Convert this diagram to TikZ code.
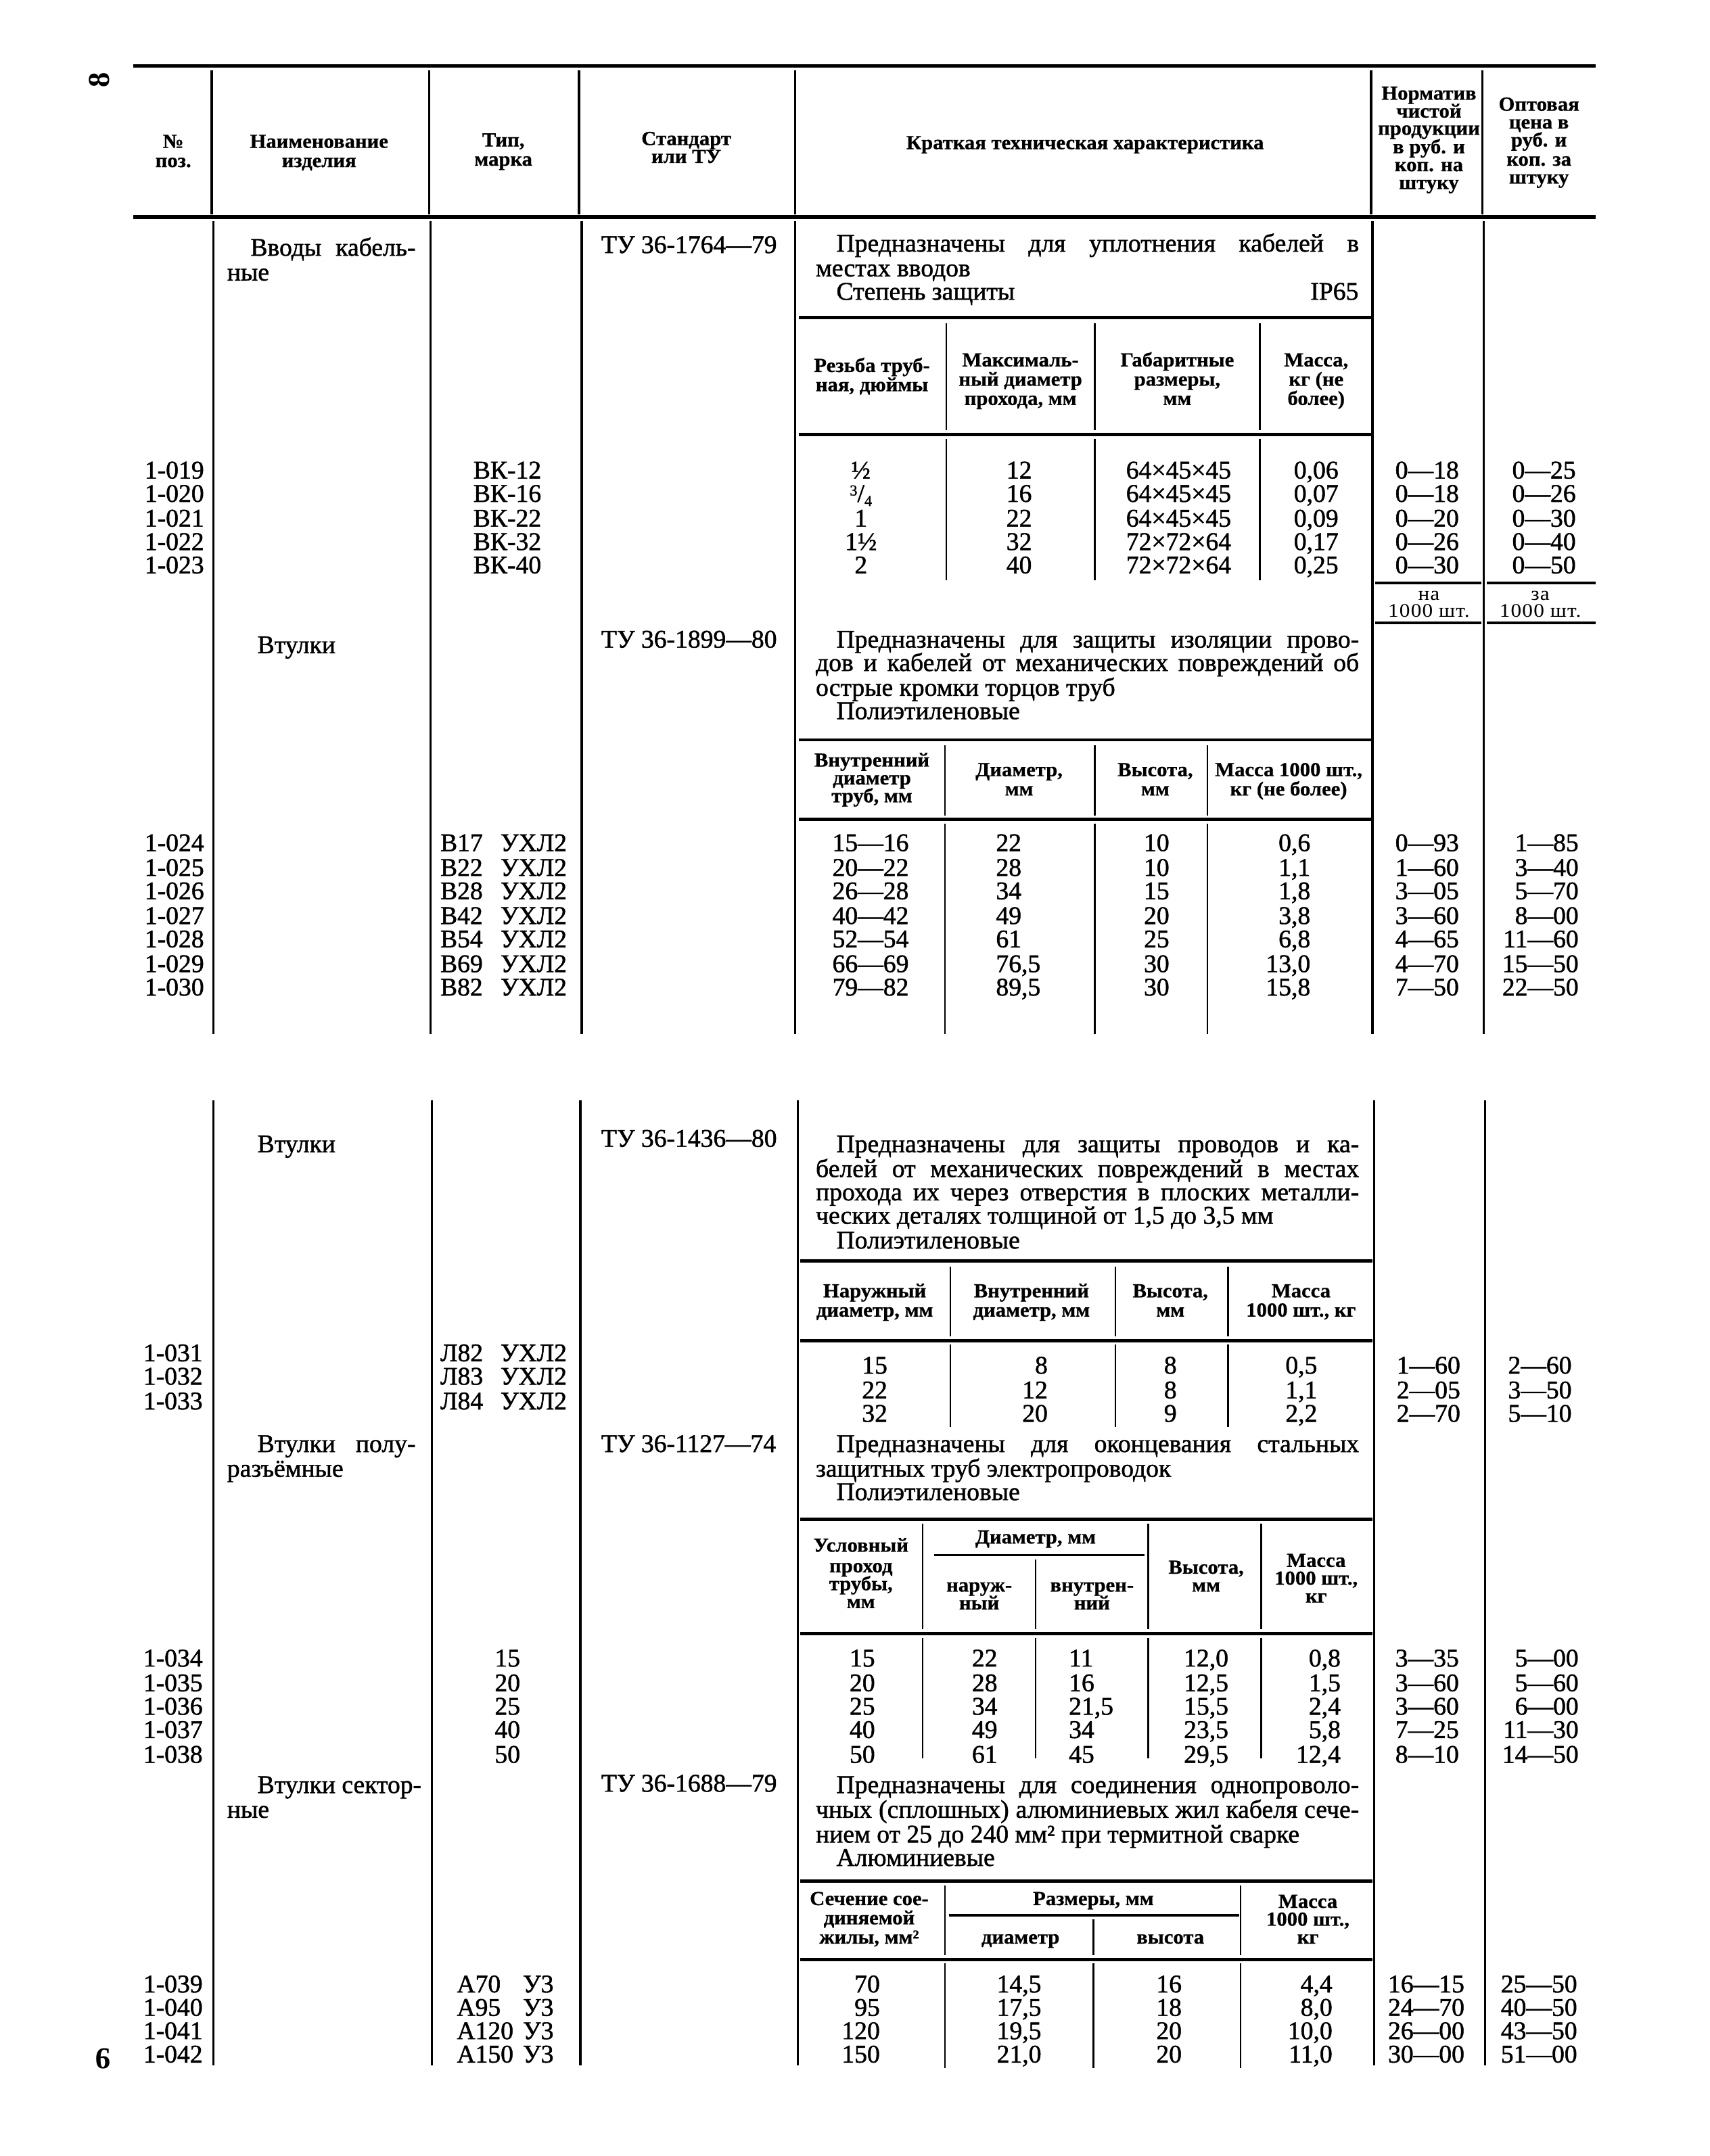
\documentclass[tikz,border=0pt]{standalone}
\usepackage{fontspec}
\setmainfont{Liberation Serif}
\newfontfamily\bodyfam[FakeBold=1.3]{Liberation Serif}
\newfontfamily\hdrfam[FakeStretch=1.04,FakeBold=0.8]{Liberation Serif}
\newfontfamily\smlfam[FakeStretch=1.1,LetterSpace=4]{Liberation Serif}
\newcommand\bodyf{\bodyfam\fontsize{18.5}{18.5}\selectfont}
\newcommand\hdrf{\hdrfam\bfseries\fontsize{14.5}{14.5}\selectfont}
\newcommand\smlf{\smlfam\fontsize{14}{14}\selectfont}
\newcommand\tqfrac{\raisebox{0.55ex}{\fontsize{11}{11}\selectfont 3}/\raisebox{-0.35ex}{\fontsize{11}{11}\selectfont 4}}
\newcounter{tn}
\tikzset{
 txt/.style={inner sep=0pt,font=\bodyf},
 hdr/.style={inner sep=0pt,font=\hdrf},
 sml/.style={inner sep=0pt,font=\smlf},
 rule/.style={line width=2.8pt},
 irule/.style={line width=2.3pt},
 vline/.style={line width=1.6pt},
 ivline/.style={line width=1.2pt},
 pgnum/.style={inner sep=0pt,font=\fontsize{22}{22}\selectfont\bfseries}
}
\newcommand\txL[3]{\stepcounter{tn}\node[txt,anchor=base west] (t\thetn) at (#1,#2) {#3};}
\newcommand\txC[3]{\stepcounter{tn}\node[txt,anchor=base] (t\thetn) at (#1,#2) {#3};}
\newcommand\txR[3]{\stepcounter{tn}\node[txt,anchor=base east] (t\thetn) at (#1,#2) {#3};}
\newcommand\txJ[4]{\stepcounter{tn}\node[txt,anchor=base west] (t\thetn) at (#1,#2) {\makebox[#3pt][s]{#4}};}
\newcommand\hdC[3]{\stepcounter{tn}\node[hdr,anchor=base] (t\thetn) at (#1,#2) {#3};}
\newcommand\smC[3]{\stepcounter{tn}\node[sml,anchor=base] (t\thetn) at (#1,#2) {#3};}
% rows
\newcommand\rowI[9]{\txL{105}{#1}{#2}\txL{344}{#1}{#3}\txC{626}{#1}{#4}\txC{741}{#1}{#5}\txC{857}{#1}{#6}\txC{957}{#1}{#7}\txR{1061}{#1}{#8}\txR{1146}{#1}{#9}}
\newcommand\rowII[9]{\txL{105}{#1}{#2}\txJ{320}{#1}{92}{#3}\txC{633}{#1}{#4}\txL{724}{#1}{#5}\txC{841}{#1}{#6}\txR{953}{#1}{#7}\txR{1061}{#1}{#8}\txR{1148}{#1}{#9}}
\newcommand\rowIII[7]{\txC{636}{#1}{#2}\txR{762}{#1}{#3}\txC{851}{#1}{#4}\txR{958}{#1}{#5}\txR{1062}{#1}{#6}\txR{1143}{#1}{#7}}
\newcommand\rowIV[8]{\txC{627}{#1}{#2}\txC{716}{#1}{#3}\txL{777}{#1}{#4}\txC{877}{#1}{#5}\txR{975}{#1}{#6}\txR{1061}{#1}{#7}\txR{1148}{#1}{#8}}
\newcommand\rowV[9]{\txL{104}{#1}{#2}\txL{332}{#1}{#3}\txL{380}{#1}{У3}\txR{640}{#1}{#4}\txC{741}{#1}{#5}\txC{850}{#1}{#6}\txR{969}{#1}{#7}\txR{1065}{#1}{#8}\txR{1147}{#1}{#9}}
\begin{document}
\begin{tikzpicture}[x=1pt,y=-1pt]
\fill[white] (0,0) rectangle (1243,1568);
\useasboundingbox (0,0) rectangle (1243,1568);

% page numbers
\node[pgnum,rotate=90] (pg8) at (72,58) {8};
\node[pgnum,rotate=180] (pg9) at (75,1497) {9};

% ===== header =====
\draw[rule] (97,48) -- (1160,48);
\draw[rule] (97,158) -- (1160,158);
\foreach \x in {154,312,421,578,997,1078} \draw[vline] (\x,51) -- (\x,156);
\hdC{126}{107.5}{№}
\hdC{126}{121.5}{поз.}
\hdC{232}{107.5}{Наименование}
\hdC{232}{121.5}{изделия}
\hdC{366}{106.5}{Тип,}
\hdC{366}{120.5}{марка}
\hdC{499}{105.5}{Стандарт}
\hdC{499}{118.5}{или ТУ}
\hdC{789}{108.5}{Краткая техническая характеристика}
\hdC{1039}{72.5}{Норматив}
\hdC{1039}{85.5}{чистой}
\hdC{1039}{98}{продукции}
\hdC{1039}{111.5}{в руб. и}
\hdC{1039}{124.5}{коп. на}
\hdC{1039}{137.5}{штуку}
\hdC{1119}{80.5}{Оптовая}
\hdC{1119}{93.5}{цена в}
\hdC{1119}{106.5}{руб. и}
\hdC{1119}{120.5}{коп. за}
\hdC{1119}{133.5}{штуку}

% ===== top body =====
\foreach \x in {155,313,423,578,998,1079} \draw[vline] (\x,161) -- (\x,752);

% --- Вводы кабельные
\txJ{182}{186}{120}{Вводы кабель-}
\txL{165}{204}{ные}
\txL{437}{184}{ТУ 36-1764—79}
\txJ{608}{183}{380}{Предназначены для уплотнения кабелей в}
\txL{593}{201}{местах вводов}
\txL{608}{218}{Степень защиты}
\txR{988}{218}{IP65}
\draw[irule] (581,231) -- (997,231);
\draw[irule] (581,316) -- (997,316);
\foreach \x in {688,796,916} {\draw[ivline] (\x,235) -- (\x,313); \draw[ivline] (\x,319) -- (\x,422);}
\hdC{634}{270.5}{Резьба труб-}
\hdC{634}{284.5}{ная, дюймы}
\hdC{742}{266.5}{Максималь-}
\hdC{742}{280.5}{ный диаметр}
\hdC{742}{294.5}{прохода, мм}
\hdC{856}{266.5}{Габаритные}
\hdC{856}{280.5}{размеры,}
\hdC{856}{294.5}{мм}
\hdC{957}{266.5}{Масса,}
\hdC{957}{280.5}{кг (не}
\hdC{957}{294.5}{более)}
\rowI{348}{1-019}{ВК-12}{½}{12}{64×45×45}{0,06}{0—18}{0—25}
\rowI{365}{1-020}{ВК-16}{\tqfrac}{16}{64×45×45}{0,07}{0—18}{0—26}
\rowI{383}{1-021}{ВК-22}{1}{22}{64×45×45}{0,09}{0—20}{0—30}
\rowI{400}{1-022}{ВК-32}{1½}{32}{72×72×64}{0,17}{0—26}{0—40}
\rowI{417}{1-023}{ВК-40}{2}{40}{72×72×64}{0,25}{0—30}{0—50}
\draw[irule] (1000,424) -- (1077,424);
\draw[irule] (1081,424) -- (1160,424);
\smC{1039}{436.5}{на}
\smC{1039}{449}{1000 шт.}
\smC{1120}{436.5}{за}
\smC{1120}{449}{1000 шт.}
\draw[irule] (1000,453) -- (1077,453);
\draw[irule] (1081,453) -- (1160,453);

% --- Втулки (ТУ 36-1899-80)
\txL{187}{475}{Втулки}
\txL{437}{471}{ТУ 36-1899—80}
\txJ{608}{471}{380}{Предназначены для защиты изоляции прово-}
\txJ{593}{488}{395}{дов и кабелей от механических повреждений об}
\txL{593}{506}{острые кромки торцов труб}
\txL{608}{523}{Полиэтиленовые}
\draw[irule] (581,538) -- (997,538);
\draw[irule] (581,596) -- (997,596);
\foreach \x in {687,796,878} {\draw[ivline] (\x,542) -- (\x,593); \draw[ivline] (\x,599) -- (\x,752);}
\hdC{634}{557.5}{Внутренний}
\hdC{634}{570.5}{диаметр}
\hdC{634}{583.5}{труб, мм}
\hdC{741}{564.5}{Диаметр,}
\hdC{741}{578.5}{мм}
\hdC{840}{564.5}{Высота,}
\hdC{840}{578.5}{мм}
\hdC{937}{564.5}{Масса 1000 шт.,}
\hdC{937}{578.5}{кг (не более)}
\rowII{619}{1-024}{В17 УХЛ2}{15—16}{22}{10}{0,6}{0—93}{1—85}
\rowII{637}{1-025}{В22 УХЛ2}{20—22}{28}{10}{1,1}{1—60}{3—40}
\rowII{654}{1-026}{В28 УХЛ2}{26—28}{34}{15}{1,8}{3—05}{5—70}
\rowII{672}{1-027}{В42 УХЛ2}{40—42}{49}{20}{3,8}{3—60}{8—00}
\rowII{689}{1-028}{В54 УХЛ2}{52—54}{61}{25}{6,8}{4—65}{11—60}
\rowII{707}{1-029}{В69 УХЛ2}{66—69}{76,5}{30}{13,0}{4—70}{15—50}
\rowII{724}{1-030}{В82 УХЛ2}{79—82}{89,5}{30}{15,8}{7—50}{22—50}

% ===== bottom body =====
\foreach \x in {155,314,422,580,999,1080} \draw[vline] (\x,800) -- (\x,1502);

% --- Втулки (ТУ 36-1436-80)
\txL{187}{838}{Втулки}
\txL{437}{834}{ТУ 36-1436—80}
\txJ{608}{838}{380}{Предназначены для защиты проводов и ка-}
\txJ{593}{856}{395}{белей от механических повреждений в местах}
\txJ{593}{873}{395}{прохода их через отверстия в плоских металли-}
\txL{593}{890}{ческих деталях толщиной от 1,5 до 3,5 мм}
\txL{608}{908}{Полиэтиленовые}
\draw[irule] (582,917) -- (998,917);
\draw[irule] (582,975) -- (998,975);
\foreach \x in {691,811,893} {\draw[ivline] (\x,921) -- (\x,972); \draw[ivline] (\x,978) -- (\x,1038);}
\hdC{636}{943.5}{Наружный}
\hdC{636}{957.5}{диаметр, мм}
\hdC{750}{943.5}{Внутренний}
\hdC{750}{957.5}{диаметр, мм}
\hdC{851}{943.5}{Высота,}
\hdC{851}{957.5}{мм}
\hdC{946}{943.5}{Масса}
\hdC{946}{957.5}{1000 шт., кг}
\txL{104}{990}{1-031}\txJ{320}{990}{92}{Л82 УХЛ2}
\txL{104}{1007}{1-032}\txJ{320}{1007}{92}{Л83 УХЛ2}
\txL{104}{1025}{1-033}\txJ{320}{1025}{92}{Л84 УХЛ2}
\rowIII{999}{15}{8}{8}{0,5}{1—60}{2—60}
\rowIII{1017}{22}{12}{8}{1,1}{2—05}{3—50}
\rowIII{1034}{32}{20}{9}{2,2}{2—70}{5—10}

% --- Втулки полуразъёмные
\txJ{187}{1056}{115}{Втулки полу-}
\txL{165}{1074}{разъёмные}
\txL{437}{1056}{ТУ 36-1127—74}
\txJ{608}{1056}{380}{Предназначены для оконцевания стальных}
\txL{593}{1074}{защитных труб электропроводок}
\txL{608}{1091}{Полиэтиленовые}
\draw[irule] (582,1105) -- (998,1105);
\draw[irule] (582,1188) -- (998,1188);
\draw[line width=1.8pt] (679,1131) -- (832,1131);
\foreach \x in {671,835,917} {\draw[ivline] (\x,1108) -- (\x,1185);}
\draw[ivline] (753,1134) -- (753,1185);
\foreach \x in {671,753,835,917} {\draw[ivline] (\x,1191) -- (\x,1279);}
\hdC{626}{1128.5}{Условный}
\hdC{626}{1143.5}{проход}
\hdC{626}{1156.5}{трубы,}
\hdC{626}{1169.5}{мм}
\hdC{753}{1122.5}{Диаметр, мм}
\hdC{712}{1157.5}{наруж-}
\hdC{712}{1170.5}{ный}
\hdC{794}{1157.5}{внутрен-}
\hdC{794}{1170.5}{ний}
\hdC{877}{1144.5}{Высота,}
\hdC{877}{1157.5}{мм}
\hdC{957}{1139.5}{Масса}
\hdC{957}{1152.5}{1000 шт.,}
\hdC{957}{1165.5}{кг}
\txL{104}{1212}{1-034}\txC{369}{1212}{15}
\txL{104}{1230}{1-035}\txC{369}{1230}{20}
\txL{104}{1247}{1-036}\txC{369}{1247}{25}
\txL{104}{1264}{1-037}\txC{369}{1264}{40}
\txL{104}{1282}{1-038}\txC{369}{1282}{50}
\rowIV{1212}{15}{22}{11}{12,0}{0,8}{3—35}{5—00}
\rowIV{1230}{20}{28}{16}{12,5}{1,5}{3—60}{5—60}
\rowIV{1247}{25}{34}{21,5}{15,5}{2,4}{3—60}{6—00}
\rowIV{1264}{40}{49}{34}{23,5}{5,8}{7—25}{11—30}
\rowIV{1282}{50}{61}{45}{29,5}{12,4}{8—10}{14—50}

% --- Втулки секторные
\txL{187}{1304}{Втулки сектор-}
\txL{165}{1322}{ные}
\txL{437}{1303}{ТУ 36-1688—79}
\txJ{608}{1304}{380}{Предназначены для соединения однопроволо-}
\txJ{593}{1322}{395}{чных (сплошных) алюминиевых жил кабеля сече-}
\txL{593}{1340}{нием от 25 до 240 мм² при термитной сварке}
\txL{608}{1357}{Алюминиевые}
\draw[irule] (582,1368) -- (998,1368);
\draw[irule] (582,1425) -- (998,1425);
\draw[line width=1.8pt] (690,1393) -- (901,1393);
\foreach \x in {687,902} {\draw[ivline] (\x,1371) -- (\x,1422);}
\draw[ivline] (795,1396) -- (795,1422);
\foreach \x in {687,795,902} {\draw[ivline] (\x,1428) -- (\x,1504);}
\hdC{632}{1385.5}{Сечение сое-}
\hdC{632}{1399.5}{диняемой}
\hdC{632}{1413.5}{жилы, мм²}
\hdC{795}{1385.5}{Размеры, мм}
\hdC{742}{1413.5}{диаметр}
\hdC{851}{1413.5}{высота}
\hdC{951}{1387.5}{Масса}
\hdC{951}{1400.5}{1000 шт.,}
\hdC{951}{1413.5}{кг}
\rowV{1449}{1-039}{А70}{70}{14,5}{16}{4,4}{16—15}{25—50}
\rowV{1466}{1-040}{А95}{95}{17,5}{18}{8,0}{24—70}{40—50}
\rowV{1483}{1-041}{А120}{120}{19,5}{20}{10,0}{26—00}{43—50}
\rowV{1500}{1-042}{А150}{150}{21,0}{20}{11,0}{30—00}{51—00}
\end{tikzpicture}
\end{document}
